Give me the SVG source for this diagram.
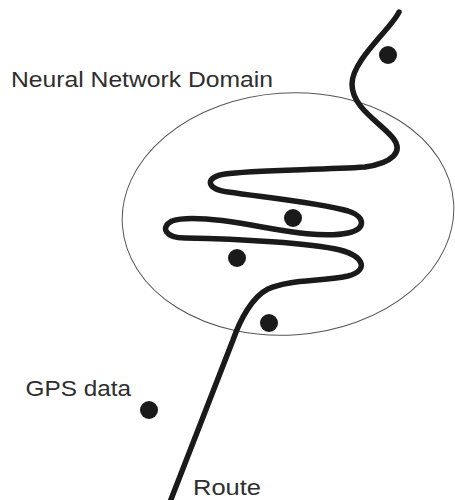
<svg xmlns="http://www.w3.org/2000/svg" width="455" height="500" viewBox="0 0 455 500">
  <style>
    .lbl { font-family: "Liberation Sans", Arial, sans-serif; font-size: 22px; fill: #2e2e2e; }
    .dot { fill: #1a1a1a; }
    .domain { fill: none; stroke: #555555; stroke-width: 1; }
    .route { fill: none; stroke: #1a1a1a; stroke-width: 5.5; stroke-linecap: round; stroke-linejoin: round; }
  </style>
  <rect width="455" height="500" fill="#ffffff"/>
  <g id="domain">
    <ellipse class="domain" cx="288" cy="214" rx="166" ry="121" transform="rotate(-4 288 214)"/>
    <text class="lbl" x="11" y="87" textLength="262" lengthAdjust="spacingAndGlyphs">Neural Network Domain</text>
  </g>
  <g id="connectors">
    <path class="route" d="M 399 12 C 392 28, 352 60, 352 84 C 352 108, 380 122, 393 138 C 404 152, 392 163, 365 167 C 320 170, 250 170, 225 174 C 205 177, 205 189, 228 192 C 270 198, 320 203, 348 211 C 366 217, 366 229, 348 233 C 325 238, 290 232, 262 227 C 230 221, 190 215, 172 221 C 160 227, 165 238, 185 238 C 240 239, 310 243, 340 250 C 363 256, 370 270, 348 276 C 320 282, 290 279, 268 289 C 252 297, 240 320, 233 340 L 170 502"/>
  </g>
  <g id="route-label">
    <text class="lbl" x="193" y="494.5" textLength="68" lengthAdjust="spacingAndGlyphs">Route</text>
  </g>
  <g id="gps-label">
    <text class="lbl" x="25.5" y="396" textLength="105.5" lengthAdjust="spacingAndGlyphs">GPS data</text>
  </g>
  <g id="gps-1"><circle class="dot" cx="388" cy="55" r="9"/></g>
  <g id="gps-2"><circle class="dot" cx="293" cy="218" r="9"/></g>
  <g id="gps-3"><circle class="dot" cx="237" cy="258" r="9"/></g>
  <g id="gps-4"><circle class="dot" cx="269" cy="323" r="9"/></g>
  <g id="gps-5"><circle class="dot" cx="149" cy="410" r="9"/></g>
</svg>
